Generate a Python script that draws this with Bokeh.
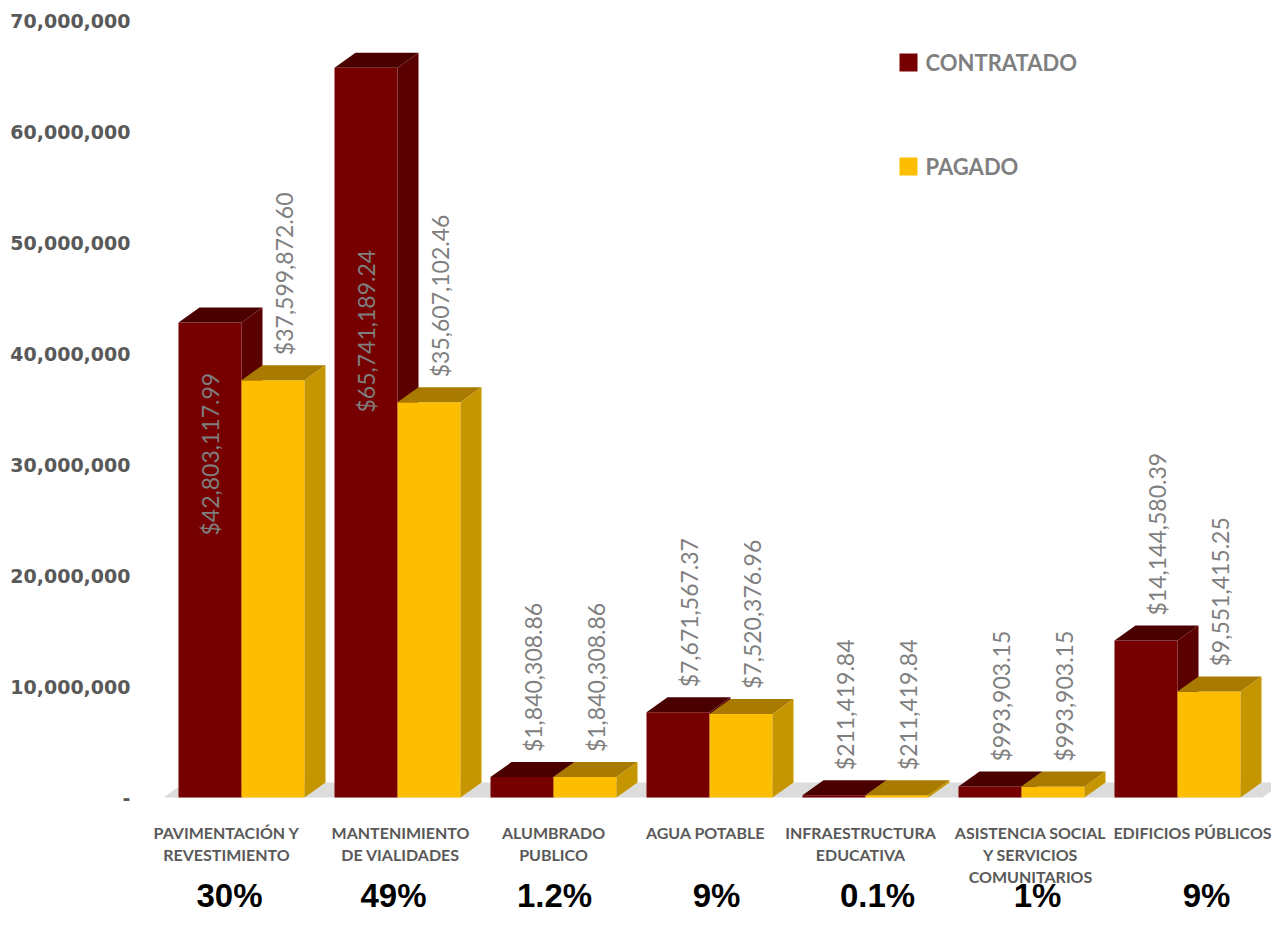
import math
from bokeh.plotting import figure
from bokeh.models import FixedTicker, Range1d
from bokeh.core.properties import value
from bokeh.embed import file_html
from bokeh.resources import INLINE

# ---------------- data ----------------
category_lines = [
    ["PAVIMENTACIÓN Y", "REVESTIMIENTO"],
    ["MANTENIMIENTO", "DE VIALIDADES"],
    ["ALUMBRADO", "PUBLICO"],
    ["AGUA POTABLE"],
    ["INFRAESTRUCTURA", "EDUCATIVA"],
    ["ASISTENCIA SOCIAL", "Y SERVICIOS", "COMUNITARIOS"],
    ["EDIFICIOS PÚBLICOS"],
]
contratado = [42803117.99, 65741189.24, 1840308.86, 7671567.37, 211419.84, 993903.15, 14144580.39]
pagado = [37599872.60, 35607102.46, 1840308.86, 7520376.96, 211419.84, 993903.15, 9551415.25]
percent_labels = ["30%", "49%", "1.2%", "9%", "0.1%", "1%", "9%"]
series_names = ["CONTRATADO", "PAGADO"]
y_ticks = [0, 10000000, 20000000, 30000000, 40000000, 50000000, 60000000, 70000000]
y_tick_labels = ["-", "10,000,000", "20,000,000", "30,000,000", "40,000,000",
                 "50,000,000", "60,000,000", "70,000,000"]

# ---------------- layout (pixels) ----------------
W, H = 1271, 915
LEFT = 140
base_px = 797
top_px = 20
ppu = (base_px - top_px) / 70000000.0
GROUP_PX = 156.0
G0_PX = 241.0


def ys(py):
    return (base_px - py) / ppu


def xs(px):
    return (px - G0_PX) / GROUP_PX


bw = 63.0 / GROUP_PX
dx = 21.0 / GROUP_PX
dy = 15.0 / ppu

p = figure(width=W, height=H, output_backend="svg", toolbar_location=None,
           x_range=Range1d(xs(LEFT), xs(W)),
           y_range=Range1d(ys(H), ys(0)),
           min_border_left=LEFT, min_border_right=0, min_border_top=0, min_border_bottom=0)
p.outline_line_color = None
p.xgrid.visible = False
p.ygrid.visible = False
p.xaxis.visible = False
p.background_fill_color = "white"
p.border_fill_color = "white"

ax = p.yaxis[0]
ax.ticker = FixedTicker(ticks=y_ticks)
ax.major_label_overrides = {t: l for t, l in zip(y_ticks, y_tick_labels)}
ax.axis_line_color = None
ax.major_tick_line_color = None
ax.minor_tick_line_color = None
ax.major_tick_in = 0
ax.major_tick_out = 0
ax.major_label_standoff = 10
ax.major_label_text_font = "DejaVu Sans"
ax.major_label_text_font_style = "bold"
ax.major_label_text_font_size = "19px"
ax.major_label_text_color = "#595959"

n = len(contratado)

# floor
fx0 = xs(163)
fx1 = xs(1262)
p.patch([fx0, fx1, fx1 + dx, fx0 + dx], [0, 0, dy, dy], fill_color="#dcdcdc", line_color=None)

colors = {
    "CONTRATADO": ("#760000", "#4b0000", "#5a0000"),
    "PAGADO": ("#fdbe00", "#a87b00", "#c59600"),
}


def draw_series(vals, offset, cols):
    front, top, side = cols
    lefts = [i + offset for i in range(n)]
    rights = [l + bw for l in lefts]
    p.quad(left=lefts, right=rights, bottom=[0] * n, top=vals, fill_color=front, line_color=None)
    p.patches([[l, r, r + dx, l + dx] for l, r in zip(lefts, rights)],
              [[v, v, v + dy, v + dy] for v in vals], fill_color=top, line_color=None)
    p.patches([[r, r, r + dx, r + dx] for r in rights],
              [[0, v, v + dy, dy] for v in vals], fill_color=side, line_color=None)


draw_series(contratado, -bw, colors["CONTRATADO"])
draw_series(pagado, 0.0, colors["PAGADO"])


def money(v):
    return "${:,.2f}".format(v)


# value labels
gap = 10.0 / ppu
inside_bottom_px = {0: 535, 1: 412}
tx, ty, tt = [], [], []
for i, v in enumerate(contratado):
    if i in inside_bottom_px:
        tx.append(i - bw / 2)
        ty.append(ys(inside_bottom_px[i]))
    else:
        tx.append(i - bw / 2 + dx / 2)
        ty.append(v + dy + gap)
    tt.append(money(v))
for i, v in enumerate(pagado):
    tx.append(i + bw / 2 + dx / 2)
    ty.append(v + dy + gap)
    tt.append(money(v))
p.text(x=tx, y=ty, text=tt, angle=math.pi / 2, text_align="left", text_baseline="middle",
       text_font=value("Lato"), text_font_size="23px", text_color="#7f7f7f")

# category labels
cat_nudge = [-15, 3, 0, -4, -5, 9, 15]
line_y = [832, 854, 876]
cx, cy, ct = [], [], []
for i, lines in enumerate(category_lines):
    for j, line in enumerate(lines):
        cx.append(i + cat_nudge[i] / GROUP_PX)
        cy.append(ys(line_y[j]))
        ct.append(line)
p.text(x=cx, y=cy, text=ct, text_align="center", text_baseline="middle",
       text_font=value("Lato"), text_font_style="bold", text_font_size="16px",
       text_color="#595959")

# percentages
pct_nudge = [-12, -4, 1, 7, 12, 16, 29]
p.text(x=[i + pct_nudge[i] / GROUP_PX for i in range(n)], y=[ys(895)] * n, text=percent_labels,
       text_align="center", text_baseline="middle",
       text_font=value("Liberation Sans"), text_font_style="bold", text_font_size="33px",
       text_color="#000000")

# legend
leg_y = [62, 166]
for name, yc in zip(series_names, leg_y):
    p.quad(left=[xs(899)], right=[xs(917)], bottom=[ys(yc + 9)], top=[ys(yc - 9)],
           fill_color=colors[name][0], line_color=None)
p.text(x=[xs(925)] * 2, y=[ys(yc) for yc in leg_y], text=series_names,
       text_align="left", text_baseline="middle",
       text_font=value("Lato"), text_font_style="bold", text_font_size="22px",
       text_color="#7f7f7f")

open("out.html", "w").write(file_html(p, INLINE))
